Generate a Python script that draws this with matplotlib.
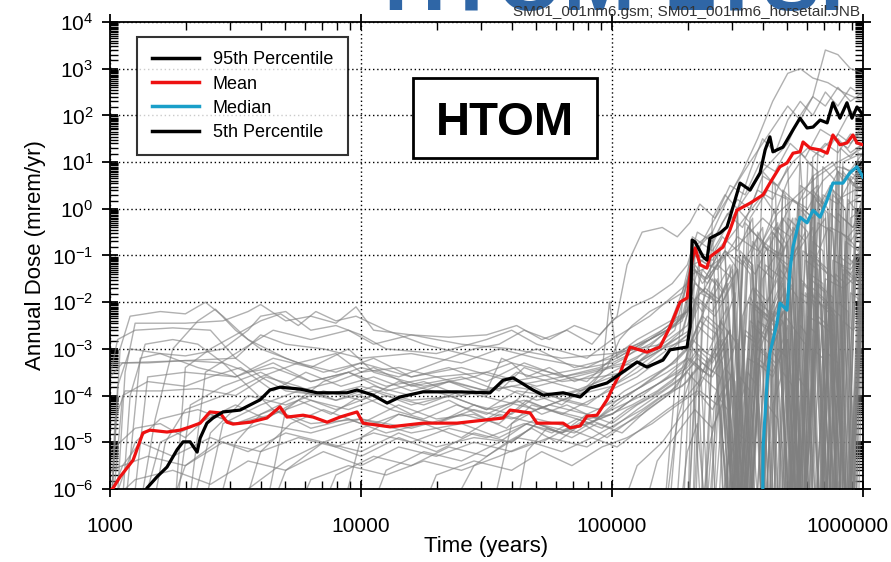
import numpy as np
import matplotlib
matplotlib.use("Agg")
from matplotlib import pyplot as plt
from matplotlib.lines import Line2D
from matplotlib.patches import Rectangle
import matplotlib.transforms as mtrans
import matplotlib.ticker as mtick

plt.rcParams['font.family'] = ['Liberation Sans', 'DejaVu Sans']
plt.rcParams['mathtext.default'] = 'regular'
plt.rcParams['axes.unicode_minus'] = False

# statistics of the dose curves, log10(time) / log10(dose)
p95_logt = [3.14, 3.147, 3.187, 3.227, 3.267, 3.291, 3.319, 3.347, 3.359, 3.386, 3.410, 3.450, 3.518, 3.558,
            3.598, 3.637, 3.677, 3.757, 3.825, 3.888, 3.944, 3.984, 4.048, 4.104, 4.155, 4.247, 4.382, 4.514,
            4.566, 4.606, 4.685, 4.725, 4.805, 4.873, 4.912, 4.980, 5.044, 5.100, 5.139, 5.203, 5.231, 5.299,
            5.311, 5.319, 5.331, 5.363, 5.378, 5.390, 5.430, 5.458, 5.482, 5.510, 5.550, 5.590, 5.610, 5.629,
            5.641, 5.681, 5.721, 5.749, 5.777, 5.801, 5.829, 5.857, 5.880, 5.908, 5.936, 5.956, 5.976, 6.0]
p95_logd = [-6.05, -5.98, -5.74, -5.53, -5.16, -4.99, -4.99, -5.21, -4.91, -4.59, -4.48, -4.35, -4.31, -4.20,
            -4.09, -3.88, -3.82, -3.86, -3.94, -3.94, -3.94, -3.88, -3.99, -4.16, -4.03, -3.92, -3.92, -3.94,
            -3.67, -3.62, -3.88, -3.99, -3.94, -4.03, -3.84, -3.73, -3.49, -3.28, -3.39, -3.24, -3.02, -2.96,
            -2.53, -0.67, -0.71, -1.03, -1.10, -0.63, -0.52, -0.39, 0.04, 0.55, 0.40, 0.77, 1.26, 1.54,
            1.22, 1.32, 1.69, 1.94, 1.73, 1.75, 1.90, 1.84, 2.27, 1.94, 2.27, 1.94, 2.18, 2.01]

mean_logt = [3.00, 3.012, 3.040, 3.092, 3.131, 3.159, 3.227, 3.279, 3.319, 3.359, 3.398, 3.438, 3.466, 3.490,
             3.558, 3.625, 3.677, 3.705, 3.769, 3.809, 3.865, 3.916, 3.984, 4.008, 4.116, 4.247, 4.382, 4.566,
             4.594, 4.673, 4.701, 4.805, 4.833, 4.873, 4.900, 4.940, 4.980, 5.004, 5.032, 5.072, 5.139, 5.191,
             5.231, 5.271, 5.299, 5.319, 5.331, 5.351, 5.378, 5.390, 5.442, 5.470, 5.498, 5.550, 5.602, 5.629,
             5.669, 5.697, 5.721, 5.749, 5.761, 5.789, 5.829, 5.857, 5.880, 5.908, 5.936, 5.960, 5.976, 6.0]
mean_logd = [-6.05, -5.98, -5.74, -5.38, -4.80, -4.74, -4.78, -4.74, -4.67, -4.59, -4.35, -4.37, -4.57, -4.61,
             -4.57, -4.48, -4.24, -4.46, -4.42, -4.46, -4.57, -4.46, -4.35, -4.59, -4.67, -4.59, -4.59, -4.48,
             -4.31, -4.37, -4.59, -4.59, -4.69, -4.65, -4.44, -4.42, -4.09, -3.82, -3.52, -2.96, -3.07, -2.96,
             -2.53, -2.00, -1.91, -1.10, -0.84, -1.20, -1.27, -1.03, -0.82, -0.45, -0.03, 0.12, 0.30, 0.55,
             0.90, 0.98, 1.19, 1.22, 1.43, 1.30, 1.26, 1.19, 1.58, 1.37, 1.41, 1.58, 1.41, 1.37]

median_logt = [5.600, 5.602, 5.618, 5.629, 5.657, 5.669, 5.697, 5.709, 5.721, 5.749, 5.777, 5.801, 5.829,
               5.857, 5.880, 5.920, 5.948, 5.976, 6.0]
median_logd = [-6.5, -5.10, -3.67, -3.09, -2.45, -2.02, -2.17, -1.31, -0.82, -0.18, -0.30, -0.03, -0.18,
               0.19, 0.55, 0.55, 0.77, 0.90, 0.68]

# individual realizations (log10 time, log10 dose); -7 = below plot floor
runs = [
    ([3.02, 3.06, 3.10, 3.30, 3.45, 3.55, 3.60, 3.70, 3.80, 3.90, 3.98, 4.05, 4.20, 4.40, 4.60, 4.80, 5.00, 5.20, 5.30, 5.33, 5.40, 5.50, 5.60, 5.65, 5.70, 5.75, 5.78, 5.80, 5.85, 5.90, 5.95, 6.00],
     [-7, -3.5, -2.45, -2.45, -2.40, -2.20, -2.05, -2.40, -2.30, -2.45, -2.10, -2.60, -2.70, -2.90, -3.00, -3.20, -3.10, -2.90, -1.50, -1.00, -1.10, -0.40, 0.30, -0.10, 0.60, 1.00, -1.50, 1.10, 1.40, 1.20, 1.60, 1.50]),
    ([3.05, 3.12, 3.20, 3.30, 3.45, 3.55, 3.60, 3.70, 3.80, 3.90, 4.00, 4.10, 4.30, 4.50, 4.60, 4.70, 4.90, 5.00, 5.15, 5.30, 5.32, 5.40, 5.50, 5.60, 5.70, 5.75, 5.80, 5.85, 5.90, 5.95, 6.00],
     [-7, -3.2, -3.1, -3.15, -3.0, -2.6, -2.3, -2.2, -2.6, -2.5, -2.7, -3.0, -3.1, -2.8, -2.6, -2.9, -3.2, -2.8, -2.3, -1.6, -0.6, -0.9, 0.0, 0.8, 1.4, 2.0, 2.4, 3.4, 3.3, 3.0, 2.9]),
    ([3.00, 3.05, 3.30, 3.50, 3.60, 3.70, 3.85, 4.00, 4.20, 4.40, 4.55, 4.70, 4.90, 5.05, 5.15, 5.25, 5.30, 5.32, 5.40, 5.45, 5.48, 5.55, 5.62, 5.70, 5.74, 5.80, 5.88, 5.92, 6.00],
     [-3.6, -3.3, -3.25, -3.2, -2.7, -2.9, -3.0, -3.2, -3.1, -3.3, -3.0, -3.2, -3.4, -3.0, -2.8, -2.5, -2.2, -1.2, -1.0, -0.7, -7, -0.2, 0.4, 0.2, -7, 0.7, 1.0, 0.6, 1.2]),
    ([3.10, 3.18, 3.25, 3.35, 3.42, 3.50, 3.60, 3.75, 3.90, 4.00, 4.15, 4.30, 4.50, 4.70, 4.85, 5.00, 5.10, 5.25, 5.32, 5.36, 5.45, 5.52, 5.58, 5.62, 5.68, 5.72, 5.80, 5.84, 5.90, 5.96, 6.00],
     [-7, -4.5, -3.0, -2.4, -2.15, -2.6, -3.0, -3.3, -3.1, -3.5, -3.4, -3.6, -3.5, -3.8, -3.6, -3.4, -3.3, -2.6, -1.2, -1.6, -1.0, -7, -0.5, -0.9, -0.2, -7, 0.3, 0.1, 0.8, -7, 0.6]),
    ([3.08, 3.15, 3.30, 3.50, 3.65, 3.80, 3.95, 4.05, 4.25, 4.45, 4.60, 4.75, 4.90, 5.00, 5.10, 5.20, 5.30, 5.32, 5.38, 5.45, 5.50, 5.56, 5.60, 5.66, 5.70, 5.76, 5.82, 5.86, 5.92, 5.97, 6.00],
     [-7, -3.6, -3.5, -3.6, -3.2, -3.4, -3.0, -3.5, -3.8, -3.6, -3.3, -3.5, -3.7, -3.2, -2.8, -2.5, -2.2, -1.3, -1.5, -0.9, -1.3, -7, -0.8, -0.3, -7, 0.2, 0.5, -7, 0.9, 0.7, 1.0]),
    ([3.25, 3.32, 3.45, 3.60, 3.75, 3.90, 4.05, 4.20, 4.40, 4.55, 4.65, 4.80, 4.95, 5.05, 5.15, 5.25, 5.31, 5.35, 5.42, 5.48, 5.53, 5.58, 5.63, 5.68, 5.73, 5.78, 5.83, 5.88, 5.93, 5.97, 6.00],
     [-7, -4.2, -3.8, -3.5, -3.9, -3.7, -3.4, -3.8, -3.6, -3.9, -3.4, -3.7, -3.6, -3.5, -3.1, -2.8, -2.6, -1.8, -2.0, -1.3, -7, -1.0, -0.6, -7, -0.2, -0.5, -7, 0.3, 0.0, -7, 0.4]),
    ([3.30, 3.40, 3.55, 3.70, 3.85, 4.00, 4.15, 4.35, 4.50, 4.62, 4.75, 4.90, 5.00, 5.10, 5.20, 5.28, 5.32, 5.36, 5.42, 5.47, 5.52, 5.57, 5.62, 5.67, 5.72, 5.77, 5.82, 5.87, 5.91, 5.96, 6.00],
     [-7, -4.8, -4.0, -4.2, -3.9, -4.1, -3.7, -4.0, -4.3, -3.9, -4.0, -4.2, -3.8, -3.4, -3.0, -2.6, -1.9, -2.2, -1.5, -7, -1.1, -1.4, -0.8, -7, -0.4, -0.7, -7, -0.1, -0.3, -7, 0.1]),
    ([3.40, 3.50, 3.60, 3.75, 3.90, 4.05, 4.20, 4.35, 4.50, 4.60, 4.68, 4.80, 4.95, 5.05, 5.15, 5.25, 5.32, 5.38, 5.44, 5.49, 5.55, 5.60, 5.65, 5.70, 5.75, 5.80, 5.85, 5.90, 5.94, 5.98, 6.00],
     [-7, -5.0, -4.4, -4.0, -4.3, -4.0, -4.4, -4.1, -4.5, -4.2, -3.8, -4.1, -4.3, -3.9, -3.6, -3.3, -2.9, -2.3, -2.6, -1.8, -7, -1.5, -1.0, -1.3, -7, -0.6, -0.2, -7, 0.2, -0.1, 0.3]),
    ([3.50, 3.60, 3.72, 3.85, 4.00, 4.15, 4.30, 4.45, 4.58, 4.68, 4.80, 4.92, 5.02, 5.12, 5.22, 5.30, 5.34, 5.40, 5.46, 5.52, 5.57, 5.62, 5.67, 5.72, 5.76, 5.81, 5.86, 5.90, 5.95, 6.00],
     [-7, -5.2, -4.6, -4.3, -4.6, -4.2, -4.5, -4.4, -4.7, -4.2, -4.4, -4.6, -4.1, -3.8, -3.5, -3.2, -2.5, -2.8, -2.1, -7, -1.7, -2.0, -1.2, -7, -0.9, -1.1, -0.4, -7, -0.2, 0.0]),
    ([3.20, 3.30, 3.45, 3.60, 3.80, 4.00, 4.20, 4.40, 4.55, 4.66, 4.75, 4.90, 5.00, 5.10, 5.20, 5.30, 5.35, 5.41, 5.47, 5.53, 5.59, 5.64, 5.69, 5.74, 5.79, 5.84, 5.89, 5.93, 5.97, 6.00],
     [-7, -5.5, -4.9, -4.6, -4.8, -4.5, -4.7, -4.4, -4.6, -4.1, -4.3, -4.5, -4.4, -4.0, -3.7, -3.4, -3.0, -3.2, -2.6, -7, -2.2, -2.4, -1.7, -7, -1.4, -1.6, -7, -1.0, -1.2, -0.8]),
    ([3.60, 3.70, 3.85, 4.00, 4.15, 4.30, 4.45, 4.60, 4.70, 4.80, 4.90, 5.00, 5.10, 5.18, 5.26, 5.33, 5.39, 5.45, 5.51, 5.56, 5.61, 5.66, 5.71, 5.76, 5.81, 5.86, 5.91, 5.95, 6.00],
     [-7, -5.6, -5.0, -5.2, -4.8, -5.1, -4.9, -5.0, -4.6, -4.8, -4.5, -4.7, -4.3, -4.0, -3.7, -3.3, -3.6, -2.9, -7, -2.5, -2.8, -2.0, -7, -1.6, -1.9, -7, -1.2, -1.4, -1.0]),
    ([3.80, 3.90, 4.05, 4.20, 4.35, 4.50, 4.62, 4.72, 4.82, 4.92, 5.02, 5.12, 5.20, 5.28, 5.34, 5.40, 5.46, 5.52, 5.58, 5.63, 5.68, 5.73, 5.78, 5.83, 5.88, 5.92, 5.96, 6.00],
     [-7, -5.7, -5.3, -5.5, -5.1, -5.3, -4.9, -5.0, -4.7, -4.9, -4.6, -4.3, -4.0, -3.8, -3.4, -3.6, -3.0, -7, -2.6, -2.9, -2.2, -7, -1.8, -2.0, -7, -1.4, -1.6, -1.2]),
    ([3.00, 3.03, 3.10, 3.25, 3.40, 3.50, 3.60, 3.70, 3.85, 4.00, 4.20, 4.40, 4.60, 4.80, 5.00, 5.10, 5.20, 5.30, 5.32, 5.40, 5.50, 5.60, 5.66, 5.72, 5.78, 5.84, 5.90, 5.96, 6.00],
     [-3.6, -2.8, -2.6, -2.55, -2.6, -3.2, -3.6, -3.9, -4.0, -3.8, -4.1, -4.0, -3.8, -4.0, -3.7, -3.3, -3.0, -2.8, -1.4, -1.2, -0.8, -0.2, -0.5, 0.2, 0.0, 0.6, 0.9, 0.8, 1.1]),
    ([3.00, 3.15, 3.30, 3.45, 3.55, 3.65, 3.80, 4.00, 4.20, 4.40, 4.55, 4.70, 4.85, 5.00, 5.10, 5.20, 5.28, 5.32, 5.38, 5.44, 5.50, 5.56, 5.62, 5.68, 5.74, 5.80, 5.86, 5.92, 5.97, 6.00],
     [-3.3, -3.3, -3.25, -3.3, -3.8, -4.3, -4.6, -4.5, -4.8, -4.6, -4.9, -4.5, -4.7, -4.4, -4.0, -3.7, -3.4, -2.8, -3.1, -2.4, -7, -2.0, -2.3, -1.5, -7, -1.0, -1.3, -7, -0.6, -0.4]),
    ([3.00, 3.05, 3.15, 3.30, 3.40, 3.52, 3.65, 3.78, 3.92, 4.05, 4.20, 4.35, 4.50, 4.62, 4.75, 4.88, 5.00, 5.10, 5.20, 5.28, 5.33, 5.37, 5.43, 5.49, 5.54, 5.60, 5.65, 5.70, 5.75, 5.80, 5.85, 5.90, 5.95, 6.00],
     [-7, -4.0, -3.7, -3.8, -3.6, -3.4, -3.9, -3.5, -3.8, -3.6, -3.9, -3.7, -4.0, -3.5, -3.7, -3.9, -3.5, -3.2, -2.7, -2.3, -1.2, -1.5, -0.9, -7, -0.4, -0.7, 0.0, -7, 0.5, 0.3, -7, 0.8, 0.6, 0.9]),
    ([3.10, 3.20, 3.35, 3.50, 3.62, 3.75, 3.88, 4.00, 4.12, 4.25, 4.38, 4.50, 4.62, 4.72, 4.82, 4.94, 5.04, 5.14, 5.24, 5.31, 5.36, 5.42, 5.48, 5.54, 5.60, 5.66, 5.71, 5.77, 5.82, 5.88, 5.93, 5.98, 6.00],
     [-7, -5.0, -4.6, -4.2, -4.5, -4.1, -4.4, -4.0, -4.3, -4.5, -4.2, -4.4, -4.1, -4.4, -4.2, -4.5, -4.1, -3.7, -3.3, -2.9, -2.3, -2.6, -7, -2.0, -2.2, -1.5, -7, -1.1, -1.3, -7, -0.7, -0.9, -0.6]),
    ([3.70, 3.80, 3.95, 4.10, 4.25, 4.40, 4.55, 4.68, 4.80, 4.92, 5.02, 5.12, 5.22, 5.30, 5.36, 5.42, 5.48, 5.54, 5.60, 5.66, 5.72, 5.78, 5.84, 5.90, 5.95, 6.00],
     [-7, -5.8, -5.5, -5.7, -5.4, -5.6, -5.3, -5.0, -5.2, -4.9, -5.1, -4.7, -4.3, -4.0, -3.6, -3.9, -7, -3.2, -3.4, -2.7, -7, -2.3, -2.5, -7, -1.8, -2.0]),
    ([4.00, 4.10, 4.25, 4.40, 4.55, 4.66, 4.76, 4.86, 4.96, 5.06, 5.16, 5.24, 5.31, 5.37, 5.43, 5.49, 5.55, 5.61, 5.67, 5.73, 5.79, 5.85, 5.91, 5.96, 6.00],
     [-7, -5.6, -5.2, -5.4, -5.0, -4.6, -4.8, -4.5, -4.7, -4.3, -4.0, -3.7, -3.2, -3.5, -2.8, -7, -2.4, -2.7, -1.9, -7, -1.5, -1.8, -7, -1.1, -0.9]),
    ([4.30, 4.45, 4.58, 4.68, 4.78, 4.88, 4.98, 5.08, 5.18, 5.26, 5.32, 5.38, 5.44, 5.50, 5.56, 5.62, 5.68, 5.74, 5.80, 5.86, 5.92, 5.97, 6.00],
     [-7, -5.5, -5.0, -4.7, -5.0, -4.6, -4.9, -4.5, -4.1, -3.8, -3.0, -3.3, -2.6, -7, -2.1, -2.4, -1.6, -7, -1.1, -1.4, -7, -0.6, -0.8]),
    ([4.60, 4.66, 4.74, 4.84, 4.94, 5.04, 5.14, 5.22, 5.30, 5.35, 5.41, 5.47, 5.53, 5.58, 5.64, 5.70, 5.75, 5.81, 5.87, 5.92, 5.96, 6.00],
     [-7, -5.2, -4.7, -4.9, -4.6, -4.8, -4.3, -4.0, -3.5, -3.8, -3.1, -7, -2.7, -2.9, -2.2, -7, -1.8, -2.0, -7, -1.3, -1.5, -1.1]),
    ([3.90, 4.00, 4.15, 4.30, 4.45, 4.60, 4.70, 4.80, 4.90, 4.98, 5.03, 5.08, 5.15, 5.22, 5.28, 5.32, 5.38, 5.44, 5.50, 5.55, 5.60, 5.66, 5.72, 5.78, 5.84, 5.90, 5.95, 6.00],
     [-7, -4.9, -4.4, -4.6, -4.2, -4.4, -4.0, -4.2, -3.8, -3.4, -2.8, -2.5, -2.2, -2.0, -1.8, -0.9, -1.0, -0.3, 0.2, 0.0, 0.7, 0.5, 1.0, 1.3, 1.1, 1.6, 1.4, 1.7]),
    ([5.00, 5.10, 5.20, 5.28, 5.35, 5.42, 5.48, 5.54, 5.60, 5.65, 5.70, 5.76, 5.82, 5.88, 5.93, 5.97, 6.00],
     [-7, -5.5, -5.0, -4.4, -3.9, -4.2, -3.5, -7, -3.0, -3.3, -2.5, -7, -2.0, -2.2, -7, -1.5, -1.7]),
    ([5.10, 5.18, 5.26, 5.33, 5.40, 5.46, 5.52, 5.58, 5.64, 5.70, 5.76, 5.82, 5.88, 5.94, 6.00],
     [-7, -5.4, -4.8, -4.3, -4.7, -3.9, -7, -3.3, -3.6, -2.8, -7, -2.3, -2.6, -7, -1.9]),
    ([3.35, 3.45, 3.60, 3.75, 3.90, 4.05, 4.20, 4.35, 4.50, 4.56, 4.60, 4.66, 4.75, 4.85, 4.95, 5.05, 5.15, 5.25, 5.31, 5.36, 5.42, 5.48, 5.54, 5.60, 5.66, 5.72, 5.78, 5.84, 5.90, 5.95, 6.00],
     [-7, -4.6, -4.2, -3.9, -4.1, -3.8, -4.0, -3.7, -3.9, -3.2, -3.3, -3.6, -3.4, -3.7, -3.5, -3.2, -2.8, -2.4, -1.4, -1.8, -1.2, -1.5, -7, -0.8, -1.0, -0.2, -7, 0.3, 0.1, 0.6, 0.4]),
    ([3.30, 3.38, 3.50, 3.65, 3.80, 3.95, 4.05, 4.20, 4.35, 4.50, 4.62, 4.72, 4.82, 4.92, 5.00, 5.08, 5.16, 5.24, 5.30, 5.34, 5.40, 5.46, 5.52, 5.58, 5.64, 5.70, 5.76, 5.82, 5.88, 5.94, 6.00],
     [-7, -3.5, -3.1, -2.6, -2.8, -2.6, -2.9, -2.7, -2.75, -2.7, -2.5, -2.8, -2.6, -2.9, -2.4, -2.1, -1.9, -1.6, -1.2, -0.5, -0.7, -0.1, -0.4, 0.4, 0.2, 0.9, -7, 1.2, 1.5, 1.3, 1.8]),
    ([3.60, 3.70, 3.85, 4.00, 4.15, 4.30, 4.45, 4.55, 4.65, 4.75, 4.85, 4.95, 5.02, 5.06, 5.12, 5.20, 5.26, 5.31, 5.35, 5.41, 5.47, 5.53, 5.59, 5.65, 5.71, 5.77, 5.83, 5.89, 5.95, 6.00],
     [-7, -4.3, -3.7, -3.4, -3.6, -3.3, -3.0, -2.9, -2.6, -2.8, -2.5, -2.7, -2.3, -1.2, -0.5, -0.4, -0.6, -0.3, 0.1, -0.2, 0.5, 0.3, 1.0, 0.8, 1.4, 1.1, 1.7, 1.5, 2.1, 1.9]),
    ([4.20, 4.30, 4.45, 4.60, 4.72, 4.84, 4.96, 5.06, 5.16, 5.26, 5.34, 5.40, 5.46, 5.52, 5.58, 5.64, 5.70, 5.76, 5.82, 5.88, 5.94, 6.00],
     [-7, -5.7, -5.4, -5.6, -5.2, -5.5, -5.1, -4.9, -4.6, -4.2, -3.9, -4.3, -3.7, -7, -3.2, -3.5, -2.8, -7, -2.4, -2.7, -7, -2.1]),
    ([3.04, 3.08, 3.14, 3.25, 3.35, 3.45, 3.55, 3.65, 3.80, 3.95, 4.10, 4.30, 4.50, 4.70, 4.90, 5.05, 5.20, 5.30, 5.35, 5.42, 5.50, 5.58, 5.65, 5.72, 5.80, 5.87, 5.94, 6.00],
     [-7, -4.0, -2.9, -2.8, -2.9, -3.3, -3.5, -3.4, -3.7, -3.5, -3.8, -3.6, -3.9, -3.7, -3.5, -3.3, -2.9, -2.5, -1.7, -2.0, -1.3, -7, -0.9, -1.1, -0.4, -7, 0.1, 0.3]),
    ([3.00, 3.10, 3.20, 3.30, 3.40, 3.50, 3.65, 3.80, 3.95, 4.10, 4.25, 4.40, 4.55, 4.70, 4.85, 5.00, 5.12, 5.22, 5.30, 5.36, 5.44, 5.51, 5.58, 5.64, 5.71, 5.78, 5.85, 5.92, 6.00],
     [-5.2, -4.7, -4.6, -4.9, -4.4, -4.6, -4.3, -4.7, -4.5, -4.8, -4.6, -4.9, -4.4, -4.6, -4.8, -4.3, -4.0, -3.6, -3.2, -3.5, -2.8, -7, -2.4, -2.6, -2.0, -7, -1.5, -1.7, -1.3]),
    ([4.50, 4.60, 4.70, 4.80, 4.90, 4.96, 4.99, 5.02, 5.08, 5.15, 5.22, 5.29, 5.33, 5.38, 5.44, 5.50, 5.56, 5.62, 5.68, 5.74, 5.80, 5.86, 5.92, 6.00],
     [-7, -4.6, -4.3, -4.1, -3.9, -3.5, -2.0, -3.2, -3.0, -2.8, -2.6, -2.3, -1.0, -1.2, -0.6, -0.9, -0.2, -7, 0.3, 0.1, 0.7, -7, 1.0, 1.2]),
    ([5.20, 5.28, 5.33, 5.40, 5.46, 5.52, 5.58, 5.64, 5.70, 5.75, 5.80, 5.86, 5.92, 6.00],
     [-7, -2.0, -0.8, -0.5, 0.2, 0.8, 1.5, 2.3, 2.9, 3.0, 2.8, 2.7, 2.5, 2.3]),
    ([5.30, 5.34, 5.40, 5.45, 5.50, 5.55, 5.60, 5.65, 5.70, 5.75, 5.80, 5.85, 5.90, 5.95, 6.00],
     [-7, -2.5, -1.8, -7, -1.0, -1.4, -7, -0.4, -0.8, -7, 0.3, -0.1, -7, 0.7, 0.5]),
    ([5.40, 5.45, 5.50, 5.55, 5.60, 5.65, 5.70, 5.75, 5.80, 5.85, 5.90, 5.95, 6.00],
     [-7, -3.5, -2.8, -7, -2.0, -2.5, -7, -1.5, -1.8, -7, -1.0, -1.2, -0.8]),
    ([5.32, 5.37, 5.42, 5.47, 5.53, 5.58, 5.63, 5.68, 5.74, 5.79, 5.84, 5.89, 5.94, 5.98, 6.00],
     [-7, -1.5, -1.0, -7, -0.3, -0.6, -7, 0.4, 0.1, -7, 0.9, 0.6, -7, 1.2, 1.1]),
    ([3.00, 3.02, 3.06, 3.20, 3.35, 3.50, 3.62, 3.75, 3.90, 4.05, 4.20, 4.35, 4.50, 4.65, 4.80, 4.95, 5.10, 5.20, 5.30, 5.34, 5.40, 5.46, 5.52, 5.58, 5.64, 5.70, 5.76, 5.82, 5.88, 5.94, 6.00],
     [-7, -4.5, -3.9, -3.9, -3.85, -4.0, -3.6, -3.8, -4.1, -3.9, -4.2, -4.0, -4.3, -4.1, -4.4, -4.0, -3.6, -3.2, -2.7, -1.9, -2.2, -1.6, -7, -1.2, -1.5, -0.7, -7, -0.3, -0.5, -7, 0.0]),
    ([3.00, 3.15, 3.30, 3.45, 3.60, 3.75, 3.90, 4.05, 4.20, 4.35, 4.50, 4.65, 4.80, 4.95, 5.08, 5.18, 5.28, 5.34, 5.40, 5.47, 5.54, 5.60, 5.67, 5.73, 5.80, 5.86, 5.93, 6.00],
     [-5.6, -5.3, -5.5, -5.0, -5.2, -4.9, -5.1, -4.8, -5.0, -4.7, -4.9, -4.6, -4.8, -4.5, -4.2, -3.9, -3.5, -3.0, -3.3, -2.6, -7, -2.2, -2.5, -7, -1.7, -2.0, -7, -1.4]),
    ([3.00, 3.10, 3.25, 3.40, 3.55, 3.70, 3.85, 4.00, 4.15, 4.30, 4.45, 4.60, 4.75, 4.90, 5.02, 5.12, 5.22, 5.30, 5.36, 5.43, 5.50, 5.56, 5.62, 5.68, 5.75, 5.82, 5.88, 5.94, 6.00],
     [-6.3, -5.8, -5.6, -5.9, -5.4, -5.6, -5.2, -5.5, -5.1, -5.3, -5.0, -5.2, -4.9, -5.1, -4.7, -4.4, -4.0, -3.7, -3.3, -3.6, -7, -2.9, -3.2, -2.4, -7, -2.0, -2.3, -7, -1.7]),
    ([3.00, 3.04, 3.08, 3.20, 3.30, 3.38, 3.45, 3.55, 3.70, 3.85, 4.00, 4.20, 4.40, 4.60, 4.80, 5.00, 5.15, 5.28, 5.33, 5.38, 5.45, 5.52, 5.60, 5.67, 5.74, 5.80, 5.87, 5.94, 6.00],
     [-7, -3.0, -2.3, -2.2, -2.25, -2.0, -2.3, -2.8, -3.2, -3.5, -3.3, -3.6, -3.4, -3.7, -3.5, -3.3, -2.9, -2.4, -1.3, -1.6, -0.9, -1.2, -0.4, -7, 0.1, -0.2, 0.5, -7, 0.8]),
    ([3.15, 3.22, 3.30, 3.45, 3.60, 3.75, 3.90, 4.05, 4.20, 4.35, 4.50, 4.65, 4.80, 4.95, 5.05, 5.15, 5.25, 5.32, 5.37, 5.44, 5.50, 5.57, 5.63, 5.70, 5.77, 5.83, 5.90, 5.96, 6.00],
     [-7, -5.0, -4.3, -4.0, -3.6, -3.3, -3.5, -3.2, -3.6, -3.4, -3.7, -3.3, -3.6, -3.4, -3.1, -2.8, -2.5, -2.0, -1.7, -2.0, -1.3, -7, -0.9, -1.2, -0.5, -7, -0.1, -0.4, 0.2]),
    ([3.45, 3.55, 3.70, 3.85, 4.00, 4.15, 4.30, 4.45, 4.60, 4.70, 4.80, 4.90, 5.00, 5.10, 5.20, 5.28, 5.34, 5.40, 5.46, 5.52, 5.58, 5.64, 5.70, 5.76, 5.82, 5.88, 5.94, 6.00],
     [-7, -6.0, -5.4, -5.0, -5.3, -4.9, -5.2, -4.8, -5.0, -4.6, -4.8, -4.4, -4.6, -4.2, -3.9, -3.6, -3.2, -3.5, -2.8, -7, -2.4, -2.7, -2.0, -7, -1.6, -1.9, -7, -1.3]),
    ([3.00, 3.10, 3.20, 3.35, 3.50, 3.65, 3.80, 3.95, 4.10, 4.25, 4.40, 4.55, 4.70, 4.85, 5.00, 5.10, 5.20, 5.30, 5.35, 5.41, 5.48, 5.55, 5.61, 5.68, 5.74, 5.81, 5.87, 5.94, 6.00],
     [-6.5, -5.0, -4.5, -4.3, -4.6, -4.4, -4.1, -4.3, -4.0, -4.2, -3.9, -4.1, -4.3, -4.0, -3.8, -3.5, -3.1, -2.7, -2.0, -2.3, -1.6, -7, -1.2, -1.5, -0.8, -7, -0.4, -0.6, -0.2]),
    ([3.25, 3.30, 3.40, 3.50, 3.60, 3.68, 3.75, 3.82, 3.90, 3.98, 4.10, 4.25, 4.40, 4.55, 4.70, 4.85, 5.00, 5.10, 5.20, 5.30, 5.35, 5.42, 5.50, 5.58, 5.66, 5.74, 5.82, 5.90, 6.00],
     [-7, -3.4, -3.0, -2.7, -2.4, -2.25, -2.5, -2.2, -2.4, -2.3, -2.6, -2.9, -3.1, -3.3, -3.0, -3.4, -3.2, -2.9, -2.6, -2.2, -1.1, -1.3, -0.6, -0.9, -0.1, 0.3, 0.7, 1.0, 1.3]),
    ([3.00, 3.05, 3.12, 3.25, 3.40, 3.55, 3.70, 3.85, 4.00, 4.15, 4.30, 4.45, 4.60, 4.75, 4.90, 5.02, 5.12, 5.22, 5.30, 5.35, 5.42, 5.50, 5.58, 5.65, 5.72, 5.80, 5.88, 5.95, 6.00],
     [-6.2, -5.5, -5.0, -5.3, -4.9, -5.2, -4.8, -5.0, -4.7, -4.4, -4.6, -4.3, -4.5, -4.2, -4.4, -4.1, -3.8, -3.4, -3.0, -2.4, -2.7, -7, -2.0, -2.3, -1.6, -7, -1.1, -1.3, -0.9]),
    ([3.00, 3.03, 3.08, 3.20, 3.35, 3.50, 3.65, 3.80, 3.95, 4.10, 4.25, 4.40, 4.55, 4.70, 4.85, 5.00, 5.10, 5.20, 5.28, 5.33, 5.40, 5.47, 5.54, 5.60, 5.67, 5.74, 5.82, 5.90, 6.00],
     [-7, -3.8, -3.0, -3.1, -3.4, -3.6, -3.3, -3.7, -3.5, -3.9, -3.7, -4.0, -3.8, -4.1, -3.9, -3.6, -3.3, -3.0, -2.7, -1.6, -1.9, -1.2, -7, -0.7, -1.0, -0.3, -7, 0.2, 0.5]),
    ([5.25, 5.30, 5.33, 5.37, 5.41, 5.45, 5.48, 5.52, 5.56, 5.60, 5.64, 5.68, 5.71, 5.75, 5.79, 5.83, 5.87, 5.90, 5.94, 5.97, 6.00],
     [-7, -3.0, -2.0, -7, -1.5, -1.8, -7, -1.0, -1.3, -7, -0.5, -0.8, -7, 0.0, -0.3, -7, 0.5, 0.2, -7, 0.8, 0.6]),
    ([5.30, 5.33, 5.38, 5.42, 5.46, 5.50, 5.54, 5.58, 5.62, 5.66, 5.70, 5.74, 5.78, 5.82, 5.86, 5.90, 5.94, 5.98, 6.00],
     [-7, -4.0, -3.2, -7, -2.6, -2.9, -7, -2.1, -2.4, -7, -1.6, -1.9, -7, -1.1, -1.4, -7, -0.6, -0.9, -0.7]),
    ([5.20, 5.26, 5.32, 5.36, 5.40, 5.44, 5.49, 5.53, 5.57, 5.61, 5.65, 5.69, 5.73, 5.77, 5.81, 5.85, 5.89, 5.93, 5.97, 6.00],
     [-7, -4.5, -3.5, -7, -3.0, -3.3, -7, -2.6, -2.8, -7, -2.2, -2.5, -7, -1.8, -2.1, -7, -1.4, -1.6, -7, -1.1]),
    ([5.32, 5.35, 5.40, 5.45, 5.50, 5.55, 5.60, 5.64, 5.69, 5.73, 5.78, 5.82, 5.86, 5.91, 5.95, 6.00],
     [-7, -0.8, -0.5, -7, 0.0, -0.3, -7, 0.6, 0.3, -7, 1.0, 0.8, -7, 1.3, 1.1, 1.4]),
    ([5.35, 5.39, 5.43, 5.47, 5.51, 5.55, 5.59, 5.63, 5.67, 5.71, 5.75, 5.79, 5.83, 5.87, 5.91, 5.95, 6.00],
     [-7, -5.0, -4.2, -7, -3.6, -3.9, -7, -3.0, -3.3, -7, -2.5, -2.8, -7, -2.1, -2.3, -7, -1.8]),
    ([5.40, 5.44, 5.48, 5.52, 5.56, 5.60, 5.64, 5.68, 5.72, 5.76, 5.80, 5.84, 5.88, 5.92, 5.96, 6.00],
     [-7, -1.8, -1.2, -7, -0.7, -1.0, -7, -0.2, -0.5, -7, 0.4, 0.1, -7, 0.8, 0.5, 0.9]),
    ([5.45, 5.49, 5.53, 5.57, 5.61, 5.65, 5.69, 5.73, 5.77, 5.81, 5.85, 5.89, 5.93, 5.97, 6.00],
     [-7, -4.5, -3.8, -7, -3.1, -3.4, -7, -2.6, -2.9, -7, -2.0, -2.3, -7, -1.5, -1.7]),
    ([5.28, 5.32, 5.36, 5.41, 5.46, 5.51, 5.56, 5.61, 5.66, 5.71, 5.76, 5.81, 5.86, 5.91, 5.96, 6.00],
     [-7, -2.2, -1.3, -1.6, -7, -0.9, -1.2, -7, -0.4, -0.6, -7, 0.2, -0.1, -7, 0.5, 0.4]),
    ([5.30, 5.33, 5.40, 5.48, 5.55, 5.60, 5.65, 5.70, 5.75, 5.80, 5.85, 5.90, 5.95, 6.00],
     [-7, -1.0, -0.3, 0.4, 1.0, 1.4, 1.8, 2.2, 1.9, 2.4, 2.2, 2.6, 2.3, 2.5]),
    ([5.45, 5.50, 5.55, 5.60, 5.65, 5.70, 5.75, 5.80, 5.85, 5.90, 5.95, 6.00],
     [-7, 0.0, 0.8, 1.5, 1.2, 1.9, 2.3, 2.0, 2.5, 2.2, 2.6, 2.4]),
    ([5.22, 5.27, 5.31, 5.35, 5.39, 5.43, 5.47, 5.51, 5.55, 5.59, 5.63, 5.67, 5.71, 5.75, 5.79, 5.83, 5.87, 5.91, 5.95, 6.00],
     [-7, -3.8, -2.9, -3.2, -7, -2.4, -2.7, -7, -1.9, -2.2, -7, -1.3, -1.6, -7, -0.9, -1.1, -7, -0.5, -0.7, -0.3]),
    ([5.26, 5.30, 5.34, 5.38, 5.42, 5.46, 5.50, 5.54, 5.58, 5.62, 5.66, 5.70, 5.74, 5.78, 5.82, 5.86, 5.90, 5.94, 5.98, 6.00],
     [-7, -5.2, -4.6, -7, -4.0, -4.3, -7, -3.5, -3.8, -7, -3.0, -3.2, -7, -2.5, -2.7, -7, -2.0, -2.2, -7, -1.8]),
    ([5.33, 5.36, 5.40, 5.44, 5.48, 5.52, 5.56, 5.60, 5.64, 5.68, 5.72, 5.76, 5.80, 5.84, 5.88, 5.92, 5.96, 6.00],
     [-7, -2.0, -1.5, -1.8, -7, -1.0, -1.2, -7, -0.5, -0.8, -7, 0.0, -0.2, -7, 0.4, 0.2, -7, 0.6]),
    ([5.37, 5.41, 5.45, 5.49, 5.53, 5.57, 5.61, 5.65, 5.69, 5.73, 5.77, 5.81, 5.85, 5.89, 5.93, 5.97, 6.00],
     [-7, -4.0, -3.4, -3.7, -7, -2.9, -3.1, -7, -2.3, -2.6, -7, -1.8, -2.0, -7, -1.3, -1.5, -1.2]),
    ([5.42, 5.46, 5.50, 5.54, 5.58, 5.62, 5.66, 5.70, 5.74, 5.78, 5.82, 5.86, 5.90, 5.94, 5.98, 6.00],
     [-7, -5.5, -4.8, -5.0, -7, -4.2, -4.5, -7, -3.6, -3.9, -7, -3.1, -3.3, -7, -2.6, -2.8]),
    ([5.50, 5.54, 5.58, 5.62, 5.66, 5.70, 5.74, 5.78, 5.82, 5.86, 5.90, 5.94, 5.98, 6.00],
     [-7, -1.2, -0.6, -0.9, -7, -0.2, -0.4, -7, 0.3, 0.0, -7, 0.7, 0.4, 0.6]),
    ([5.55, 5.59, 5.63, 5.67, 5.71, 5.75, 5.79, 5.83, 5.87, 5.91, 5.95, 5.99, 6.00],
     [-7, -3.0, -2.4, -2.7, -7, -1.9, -2.1, -7, -1.4, -1.6, -7, -1.0, -0.9]),
    ([5.60, 5.64, 5.68, 5.72, 5.76, 5.80, 5.84, 5.88, 5.92, 5.96, 6.00],
     [-7, -4.2, -3.5, -3.8, -7, -3.0, -3.2, -7, -2.4, -2.6, -2.3]),
    ([5.35, 5.40, 5.45, 5.50, 5.55, 5.60, 5.65, 5.70, 5.75, 5.80, 5.85, 5.90, 5.95, 6.00],
     [-7, -0.2, 0.3, 0.0, -7, 0.8, 0.5, -7, 1.2, 0.9, -7, 1.5, 1.2, 1.4]),
    ([5.48, 5.52, 5.56, 5.60, 5.64, 5.68, 5.72, 5.76, 5.80, 5.84, 5.88, 5.92, 5.96, 6.00],
     [-7, -2.3, -1.7, -2.0, -7, -1.2, -1.5, -7, -0.7, -0.9, -7, -0.2, -0.4, -0.1]),
]

legend_labels = ["95th Percentile", "Mean", "Median", "5th Percentile"]
x_ticks = [1000, 10000, 100000, 1000000]

fig = plt.figure(figsize=(8.91, 5.62), dpi=100)
ax = fig.add_axes([0.1235, 0.1299, 0.8451, 0.8310])

for rt, rd in runs:
    ax.plot(10 ** np.array(rt), 10 ** np.array(rd), color='0.5', lw=1.0, alpha=0.62, zorder=2)

ax.plot(10 ** np.array(mean_logt), 10 ** np.array(mean_logd), color='#ee1111', lw=2.3, zorder=4)
ax.plot(10 ** np.array(median_logt), 10 ** np.array(median_logd), color='#1a9fc9', lw=2.3, zorder=4)
ax.plot(10 ** np.array(p95_logt), 10 ** np.array(p95_logd), color='black', lw=2.3, zorder=5)

ax.set_xscale('log')
ax.set_yscale('log')
ax.set_xlim(1000, 1e6)
ax.set_ylim(1e-6, 1e4)

ax.set_xticks(x_ticks)
ax.xaxis.set_major_formatter(mtick.FuncFormatter(lambda v, p: "%d" % v))
ax.xaxis.set_minor_locator(mtick.LogLocator(base=10, subs=np.arange(2, 10), numticks=20))
ax.xaxis.set_minor_formatter(mtick.NullFormatter())
ax.yaxis.set_major_locator(mtick.LogLocator(base=10, numticks=20))
ax.yaxis.set_minor_locator(mtick.LogLocator(base=10, subs=np.arange(1.5, 10, 0.5), numticks=30))
ax.yaxis.set_minor_formatter(mtick.NullFormatter())

ax.tick_params(which='major', direction='inout', length=12, width=1.3, labelsize=15,
               top=True, right=True)
ax.tick_params(axis='x', which='major', pad=14)
ax.tick_params(axis='y', which='major', pad=6)
ax.tick_params(which='minor', direction='in', length=6, width=1.0, top=True, right=True)
for s in ax.spines.values():
    s.set_linewidth(1.3)

ax.grid(True, which='major', color='black', ls=(0, (1, 2)), lw=1.0)

ax.set_xlabel("Time (years)", fontsize=16, labelpad=0)
ax.set_ylabel("Annual Dose (mrem/yr)", fontsize=16, labelpad=4)

handles = [Line2D([], [], color='black', lw=2.5),
           Line2D([], [], color='#ee1111', lw=2.5),
           Line2D([], [], color='#1a9fc9', lw=2.5),
           Line2D([], [], color='black', lw=2.5)]
leg = ax.legend(handles, legend_labels, loc='upper left', bbox_to_anchor=(0.036, 0.968),
                borderaxespad=0, fontsize=13, frameon=True, fancybox=False, handlelength=2.6,
                borderpad=0.8, labelspacing=0.4, handletextpad=0.8)
leg.get_frame().set_edgecolor('black')
leg.get_frame().set_linewidth(1.5)
leg.set_zorder(10)

# label box in the upper middle
ax.add_patch(Rectangle((0.4024, 0.7088), 0.2443, 0.1713, transform=ax.transAxes,
                       fc='white', ec='black', lw=2, zorder=10))
ax.text(0.5246, 0.758, "HTOM", transform=ax.transAxes, ha='center', va='baseline',
        fontsize=34, fontweight='bold', zorder=11)

fig.text(0.965, 0.966, "SM01_001nm6.gsm; SM01_001nm6_horsetail.JNB", ha='right', va='bottom',
         fontsize=11, color='#333333')
fig.text(0.43, 1 - 10 / 562, "HTOM-LTSI", ha='left', va='baseline', fontsize=62,
         fontweight='bold', color='#2f66a6', zorder=0)

# nudge the last x label so it stays inside the figure
fig.canvas.draw()
last = ax.get_xticklabels()[-1]
last.set_transform(last.get_transform() + mtrans.ScaledTranslation(-16 / 100, 0, fig.dpi_scale_trans))

fig.savefig('out.png', dpi=100)
